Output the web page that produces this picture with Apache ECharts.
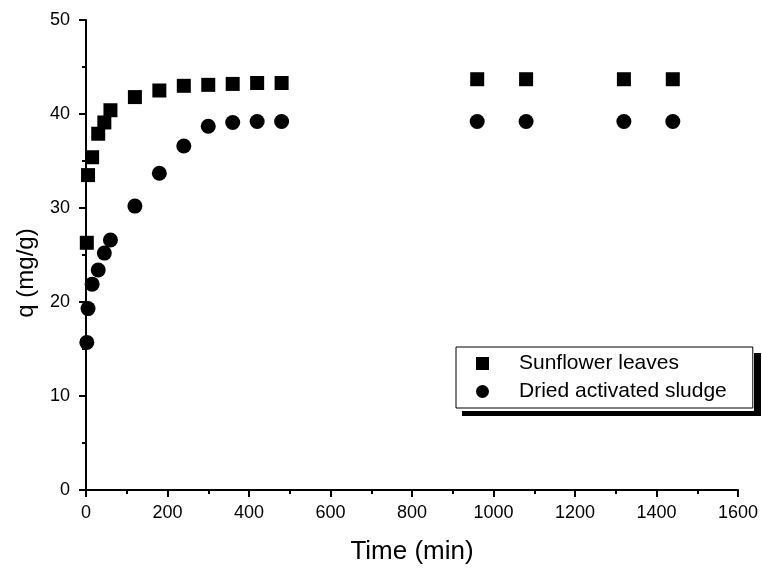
<!DOCTYPE html>
<html>
<head>
<meta charset="utf-8">
<style>
html,body{margin:0;padding:0;background:#fff;}
#main{width:762px;height:570px;}
</style>
</head>
<body>
<div id="main"></div>
<script src="https://cdn.jsdelivr.net/npm/echarts@6/dist/echarts.min.js"></script>
<script type="text/javascript">
// contact time (min)
var times = [2, 5, 15, 30, 45, 60, 120, 180, 240, 300, 360, 420, 480, 960, 1080, 1320, 1440];
// q (mg/g)
var sunflower = [26.3, 33.5, 35.4, 37.9, 39.1, 40.4, 41.8, 42.5, 43.0, 43.1, 43.2, 43.3, 43.3, 43.7, 43.7, 43.7, 43.7];
var sludge = [15.7, 19.3, 21.9, 23.4, 25.2, 26.6, 30.2, 33.7, 36.6, 38.7, 39.1, 39.2, 39.2, 39.2, 39.2, 39.2, 39.2];

function pairs(xs, ys){
    var out = [];
    for(var i = 0; i < xs.length; i++){
        out.push([xs[i], ys[i]]);
    }
    return out;
}

var myChart = echarts.init(document.getElementById('main'));
var font = 'Liberation Sans, Arial, sans-serif';

option = {
    animation: false,
    backgroundColor: '#fff',
    grid: {left: 86, right: 24, top: 20, bottom: 80, containLabel: false},
    xAxis: {
        type: 'value',
        min: 0, max: 1600, interval: 200,
        name: 'Time (min)',
        nameLocation: 'middle',
        nameGap: 49,
        nameTextStyle: {color: '#000', fontSize: 26, fontFamily: font},
        axisLine: {show: true, lineStyle: {color: '#000', width: 2}},
        axisTick: {show: true, inside: false, length: 7, lineStyle: {color: '#000', width: 2}},
        minorTick: {show: true, splitNumber: 2, length: 4, lineStyle: {color: '#000', width: 2}},
        axisLabel: {color: '#000', fontSize: 18, fontFamily: font, margin: 14, formatter: function(v){ return String(v); }},
        splitLine: {show: false}
    },
    yAxis: {
        type: 'value',
        min: 0, max: 50, interval: 10,
        name: 'q (mg/g)',
        nameLocation: 'middle',
        nameGap: 48,
        nameTextStyle: {color: '#000', fontSize: 24, fontFamily: font, padding: [0, 36, 0, 0]},
        axisLine: {show: true, onZero: false, lineStyle: {color: '#000', width: 2}},
        axisTick: {show: true, inside: false, length: 7, lineStyle: {color: '#000', width: 2}},
        minorTick: {show: true, splitNumber: 2, length: 4, lineStyle: {color: '#000', width: 2}},
        axisLabel: {color: '#000', fontSize: 18, fontFamily: font, margin: 16, formatter: function(v){ return String(v); }},
        splitLine: {show: false}
    },
    legend: {
        orient: 'vertical',
        left: 456, top: 347,
        padding: [6, 26, 6, 20],
        itemGap: 7,
        itemWidth: 13, itemHeight: 13,
        borderColor: '#000', borderWidth: 1,
        backgroundColor: '#fff',
        textStyle: {color: '#000', fontSize: 21, fontFamily: font, padding: [0, 0, 0, 25]},
        data: [
            {name: 'Sunflower leaves', icon: 'rect'},
            {name: 'Dried activated sludge', icon: 'circle'}
        ]
    },
    graphic: [
        {type: 'rect', left: 754, top: 353, shape: {width: 7, height: 63}, style: {fill: '#000'}, z: 1},
        {type: 'rect', left: 462, top: 411, shape: {width: 299, height: 5}, style: {fill: '#000'}, z: 1}
    ],
    series: [
        {
            name: 'Sunflower leaves',
            type: 'scatter',
            symbol: 'rect',
            symbolSize: 14,
            itemStyle: {color: '#000', opacity: 1},
            data: pairs(times, sunflower)
        },
        {
            name: 'Dried activated sludge',
            type: 'scatter',
            symbol: 'circle',
            symbolSize: 15,
            itemStyle: {color: '#000', opacity: 1},
            data: pairs(times, sludge)
        }
    ]
};
myChart.setOption(option);
</script>
</body>
</html>
